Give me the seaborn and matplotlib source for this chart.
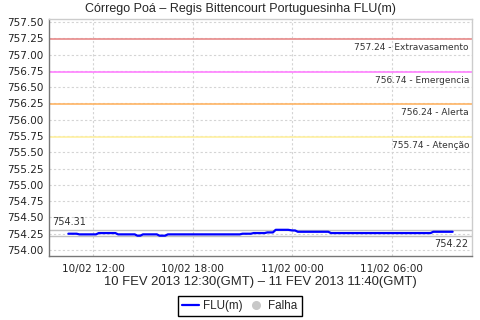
import matplotlib
matplotlib.use("Agg")
import matplotlib.pyplot as plt
import matplotlib.dates as mdates
from matplotlib.lines import Line2D
import seaborn as sns
import pandas as pd

# ---- data ----
times = [
    "2013-02-10 10:30", "2013-02-10 11:00", "2013-02-10 11:10", "2013-02-10 12:10",
    "2013-02-10 12:20", "2013-02-10 13:20", "2013-02-10 13:30", "2013-02-10 14:30",
    "2013-02-10 14:40", "2013-02-10 14:50", "2013-02-10 15:00", "2013-02-10 15:50",
    "2013-02-10 16:00", "2013-02-10 16:20", "2013-02-10 16:30", "2013-02-10 20:50",
    "2013-02-10 21:00", "2013-02-10 21:30", "2013-02-10 21:40", "2013-02-10 22:20",
    "2013-02-10 22:30", "2013-02-10 22:50", "2013-02-10 23:00", "2013-02-10 23:45",
    "2013-02-11 00:00", "2013-02-11 00:10", "2013-02-11 00:20", "2013-02-11 02:10",
    "2013-02-11 02:20", "2013-02-11 08:20", "2013-02-11 08:30", "2013-02-11 09:40",
]
levels = [
    754.25, 754.25, 754.24, 754.24,
    754.26, 754.26, 754.24, 754.24,
    754.22, 754.22, 754.24, 754.24,
    754.22, 754.22, 754.24, 754.24,
    754.25, 754.25, 754.26, 754.26,
    754.27, 754.27, 754.31, 754.31,
    754.30, 754.30, 754.28, 754.28,
    754.26, 754.26, 754.28, 754.28,
]
threshold_values = [757.24, 756.74, 756.24, 755.74]
threshold_names = ["Extravasamento", "Emergencia", "Alerta", "Atenção"]
threshold_colors = ["#e88a8a", "#ff80ff", "#ffb464", "#fff0a0"]
max_value = 754.31
min_value = 754.22
y_ticks = [754.00, 754.25, 754.50, 754.75, 755.00, 755.25, 755.50, 755.75,
           756.00, 756.25, 756.50, 756.75, 757.00, 757.25, 757.50]
x_ticks = ["2013-02-10 12:00", "2013-02-10 18:00", "2013-02-11 00:00", "2013-02-11 06:00"]
title = "Córrego Poá – Regis Bittencourt Portuguesinha FLU(m)"
xlabel = "10 FEV 2013 12:30(GMT) – 11 FEV 2013 11:40(GMT)"
series_name = "FLU(m)"
fail_name = "Falha"

df = pd.DataFrame({"time": pd.to_datetime(times), "level": levels})

sns.set_style("white")
plt.rcParams["font.family"] = ["DejaVu Sans"]
label_font = ["Liberation Sans", "DejaVu Sans"]

fig = plt.figure(figsize=(4.8, 3.2), dpi=100)
ax = fig.add_axes([49 / 480, 1 - 256 / 320, (472 - 49) / 480, (256 - 19) / 320])

# threshold lines
for v, n, c in zip(threshold_values, threshold_names, threshold_colors):
    ax.axhline(v, color=c, lw=1.2, zorder=2)
    ax.annotate(f"{v:.2f} - {n}", xy=(1, v), xycoords=("axes fraction", "data"),
                xytext=(-3, -4), textcoords="offset pixels", ha="right", va="top",
                fontsize=6.5, color="#333333")

# min / max lines
ax.axhline(max_value, color="#c0c0c0", lw=1, zorder=2)
ax.axhline(min_value, color="#c0c0c0", lw=1, zorder=2)
ax.annotate(f"{max_value:.2f}", xy=(0, max_value), xycoords=("axes fraction", "data"),
            xytext=(3, 3), textcoords="offset pixels", ha="left", va="bottom",
            fontsize=7, color="#333333")
ax.annotate(f"{min_value:.2f}", xy=(1, min_value), xycoords=("axes fraction", "data"),
            xytext=(-4, -3), textcoords="offset pixels", ha="right", va="top",
            fontsize=7, color="#333333")

sns.lineplot(data=df, x="time", y="level", ax=ax, color="#0000ff", lw=1.6,
             zorder=3, legend=False)

ax.set_ylim(753.908, 757.546)
ax.set_xlim(pd.Timestamp("2013-02-10 09:20"), pd.Timestamp("2013-02-11 10:50"))
ax.set_yticks(y_ticks)
ax.set_yticklabels([f"{t:.2f}" for t in y_ticks])
ax.set_xticks(pd.to_datetime(x_ticks))
ax.xaxis.set_major_formatter(mdates.DateFormatter("%d/%m %H:%M"))
ax.tick_params(axis="both", labelsize=7.5, colors="#222222", length=2, width=0.8,
               direction="out", pad=2)
ax.tick_params(axis="x", length=0, pad=6)

ax.grid(True, color="#d4d4d4", ls=(0, (2, 2)), lw=0.8)
ax.set_axisbelow(True)
for s in ["left", "bottom"]:
    ax.spines[s].set_color("#777777")
    ax.spines[s].set_linewidth(1)
for s in ["right", "top"]:
    ax.spines[s].set_color("#cccccc")
    ax.spines[s].set_linewidth(1)

ax.set_ylabel("")
ax.set_xlabel(xlabel, fontsize=9.4, labelpad=1, family=label_font)
fig.suptitle(title, x=0.5, y=1 - 9 / 320, va="center", fontsize=9, family=label_font)

handles = [Line2D([], [], color="#0000ff", lw=1.6),
           Line2D([], [], color="#c8c8c8", marker="o", ls="", markersize=5.5)]
fig.legend(handles, [series_name, fail_name], loc="lower center",
           bbox_to_anchor=(0.5, 0.005), ncol=2, frameon=True,
           prop={"family": label_font, "size": 8.4},
           fancybox=False, edgecolor="black", framealpha=1,
           handlelength=1.4, handletextpad=0.4, columnspacing=0.4,
           borderpad=0.35, borderaxespad=0.2)

fig.savefig("out.png", dpi=100)
